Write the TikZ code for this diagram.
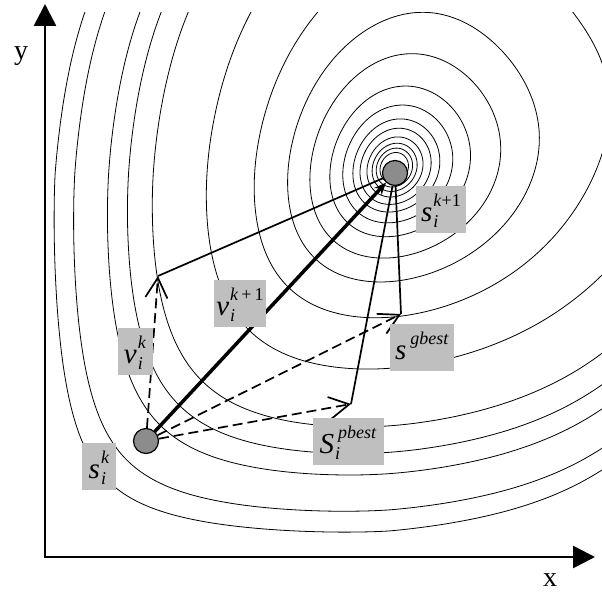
\documentclass[tikz,border=0pt]{standalone}
\usepackage{amsmath}
\usepackage{fontspec}
\setmainfont{Liberation Serif}
\usetikzlibrary{arrows.meta}

% one level line of the cost surface: radius, angle step
\newcommand{\contour}[2]{%
  \pgfmathsetmacro{\ex}{0.1*#1*#1}%
  \pgfmathsetmacro{\tb}{0.5+#2}%
  \gdef\pts{}%
  \foreach \t in {0.5,\tb,...,359.9} {%
    \pgfmathsetmacro{\sone}{#1*cos(\t)*(abs(cos(\t))+0.001)^\ex}%
    \pgfmathsetmacro{\stwo}{#1*sin(\t)*(abs(sin(\t))+0.001)^\ex}%
    \pgfmathsetmacro{\uu}{394*((\sone)/2+sqrt((\sone)*(\sone)/4+1))^2}%
    \pgfmathsetmacro{\vv}{422*((\stwo)/2+sqrt((\stwo)*(\stwo)/4+1))^2}%
    \pgfmathsetmacro{\xx}{\uu+6*(exp(min(\vv-422,300)/100)-1)}%
    \pgfmathsetmacro{\yy}{590-\vv-7*(exp(min(\uu-394,300)/100)-1)}%
    \xdef\pts{\pts (\xx,\yy)}%
  }%
  \draw[contour] plot[smooth cycle] coordinates {\pts};%
}

% particle symbol with raised and lowered indices
\newcommand{\pvar}[3]{\textit{#1}\kern1pt\rlap{\raisebox{-6pt}{\fontsize{18}{18}\selectfont\textit{#3}}}\raisebox{15pt}{\fontsize{18}{18}\selectfont #2}}

\begin{document}
\begin{tikzpicture}[
    x=1pt, y=-1pt,
    contour/.style={line width=0.8pt},
    axis/.style={line width=2.6pt, {Triangle[length=22pt,width=22pt]}-{Triangle[length=22pt,width=22pt]}},
    particle/.style={circle, draw, line width=1.2pt, fill=black!45, minimum size=25pt, inner sep=0pt},
    tag/.style={fill=gray!50, inner xsep=0pt, inner ysep=2pt, minimum width=#1, text height=34pt, text depth=9pt, font=\fontsize{29}{32}\selectfont},
    axlbl/.style={font=\fontsize{28}{32}\selectfont},
    move/.style={line width=1.7pt, dash pattern=on 10pt off 5pt, -{Straight Barb[length=20pt,width=22pt]}},
    pull/.style={line width=1.7pt},
    vel/.style={line width=3.5pt, -{Stealth[length=12pt,width=10pt]}},
]
    \useasboundingbox (0,0) rectangle (602,594);

    % Contours
    \begin{scope}
        \clip (45,13) rectangle (602,557);
        \foreach \r in {2.3, 1.86, 1.38, 1.18, 0.98, 0.655, 0.44} {\contour{\r}{1.5}}
        \foreach \r in {0.315, 0.24, 0.1775, 0.139, 0.110, 0.090, 0.071, 0.057, 0.046, 0.036} {\contour{\r}{3}}
    \end{scope}

    % Axes
    \coordinate (O) at (45,557);
    \coordinate (ytip) at (45,4);
    \coordinate (xtip) at (595,557);
    \draw[axis] (ytip) -- (O) -- (xtip);
    \node[axlbl] (ylab) at (21,56) {y};
    \node[axlbl] (xlab) at (550,580) {x};

    % Particles and targets
    \node[particle] (sk) at (146,441) {};
    \node[particle] (sk1) at (395,173) {};
    \coordinate (vk) at (158,276);
    \coordinate (pb) at (351,404);
    \coordinate (gb) at (401,314);

    % Moves
    \draw[move] (sk) -- (vk);
    \draw[move] (sk) -- (pb);
    \draw[move] (sk) -- (gb);
    \draw[pull] (vk) -- (sk1);
    \draw[pull] (pb) -- (sk1);
    \draw[pull] (gb) -- (sk1);
    \draw[vel] (sk) -- (sk1);

    % Labels
    \node[tag=34pt] (lsk) at (99,466) {\pvar{s}{\textit{k}}{i}};
    \node[tag=35pt] (lvk) at (135,351) {\pvar{v}{\textit{k}}{i}};
    \node[tag=52pt] (lvk1) at (240,303) {\pvar{v}{\textit{k}\,+\,1}{i}};
    \node[tag=50pt] (lsk1) at (441,209) {\pvar{s}{\textit{k}+1}{i}};
    \node[tag=64pt] (lgb) at (422,347) {\pvar{s}{\,\textit{gbest}}{}};
    \node[tag=71pt] (lpb) at (348,441) {\pvar{S}{\,\textit{pbest}}{i}};

\end{tikzpicture}
\end{document}
